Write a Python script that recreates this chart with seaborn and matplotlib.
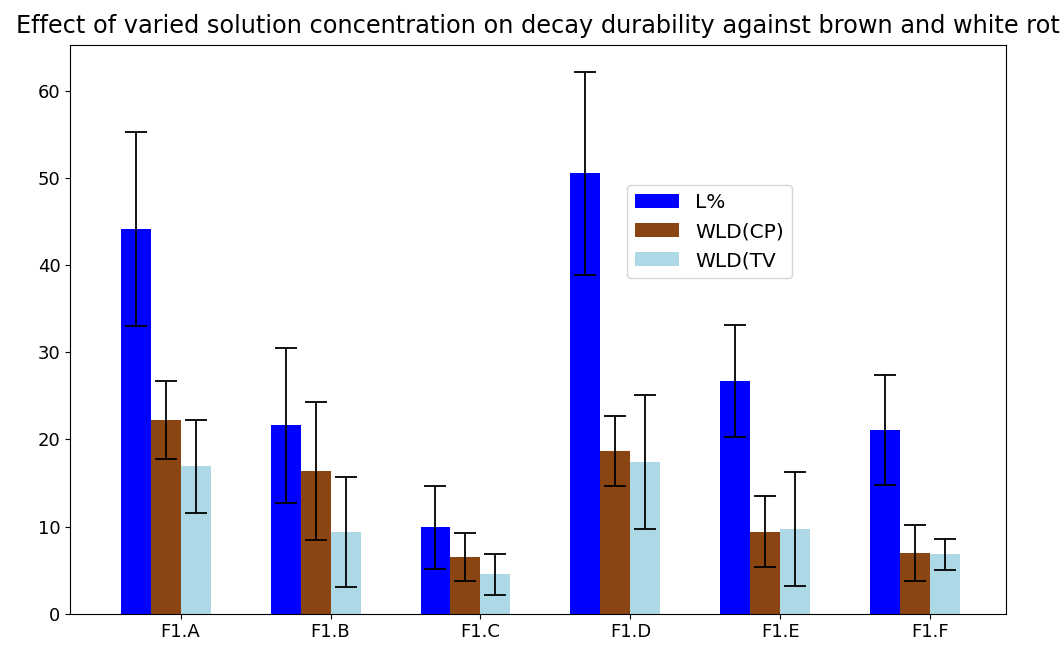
import numpy as np
import pandas as pd
import matplotlib
matplotlib.use("Agg")
import matplotlib.pyplot as plt
import seaborn as sns

groups = ["F1.A", "F1.B", "F1.C", "F1.D", "F1.E", "F1.F"]
series = ["L%", "WLD(CP)", "WLD(TV"]

l_pct = [44.1, 21.6, 9.9, 50.5, 26.7, 21.1]
l_err = [11.1, 8.9, 4.8, 11.6, 6.4, 6.3]
wld_cp = [22.2, 16.4, 6.5, 18.7, 9.4, 7.0]
wld_cp_err = [4.5, 7.9, 2.7, 4.0, 4.1, 3.2]
wld_tv = [16.9, 9.4, 4.5, 17.4, 9.7, 6.8]
wld_tv_err = [5.3, 6.3, 2.3, 7.7, 6.5, 1.8]

colors = ["blue", "#8B4513", "lightblue"]

df = pd.DataFrame({
    "group": groups * 3,
    "series": np.repeat(series, len(groups)),
    "value": l_pct + wld_cp + wld_tv,
    "err": l_err + wld_cp_err + wld_tv_err,
})

plt.rcParams["font.family"] = ["DejaVu Sans"]
plt.rcParams["font.size"] = 13

fig, ax = plt.subplots(figsize=(10.62, 6.46), dpi=100)
fig.subplots_adjust(left=0.066, right=0.947, top=0.930, bottom=0.050)

sns.barplot(data=df, x="group", y="value", hue="series", palette=colors,
            width=0.6, saturation=1, errorbar=None, ax=ax)

# error bars from the drawn bars
errs = [l_err, wld_cp_err, wld_tv_err]
for cont, e in zip(ax.containers, errs):
    xs = [p.get_x() + p.get_width() / 2 for p in cont.patches]
    hs = [p.get_height() for p in cont.patches]
    ax.errorbar(xs, hs, yerr=e, fmt="none", ecolor="black",
                elinewidth=1.3, capsize=8, capthick=1.3)

ax.set_xticks(np.arange(len(groups)) + 0.1)
ax.set_xticklabels(groups)
ax.set_xlim(-0.637, 5.603)
ax.set_ylim(0, 65.2)
ax.set_yticks([0, 10, 20, 30, 40, 50, 60])
ax.set_xlabel("")
ax.set_ylabel("")
ax.set_title("Effect of varied solution concentration on decay durability against brown and white rot",
             fontsize=17.3, pad=9)
ax.legend(loc="upper left", bbox_to_anchor=(0.595, 0.754), borderaxespad=0,
          fontsize=14.5, handlelength=2.2)

fig.savefig("out.png", dpi=100)
